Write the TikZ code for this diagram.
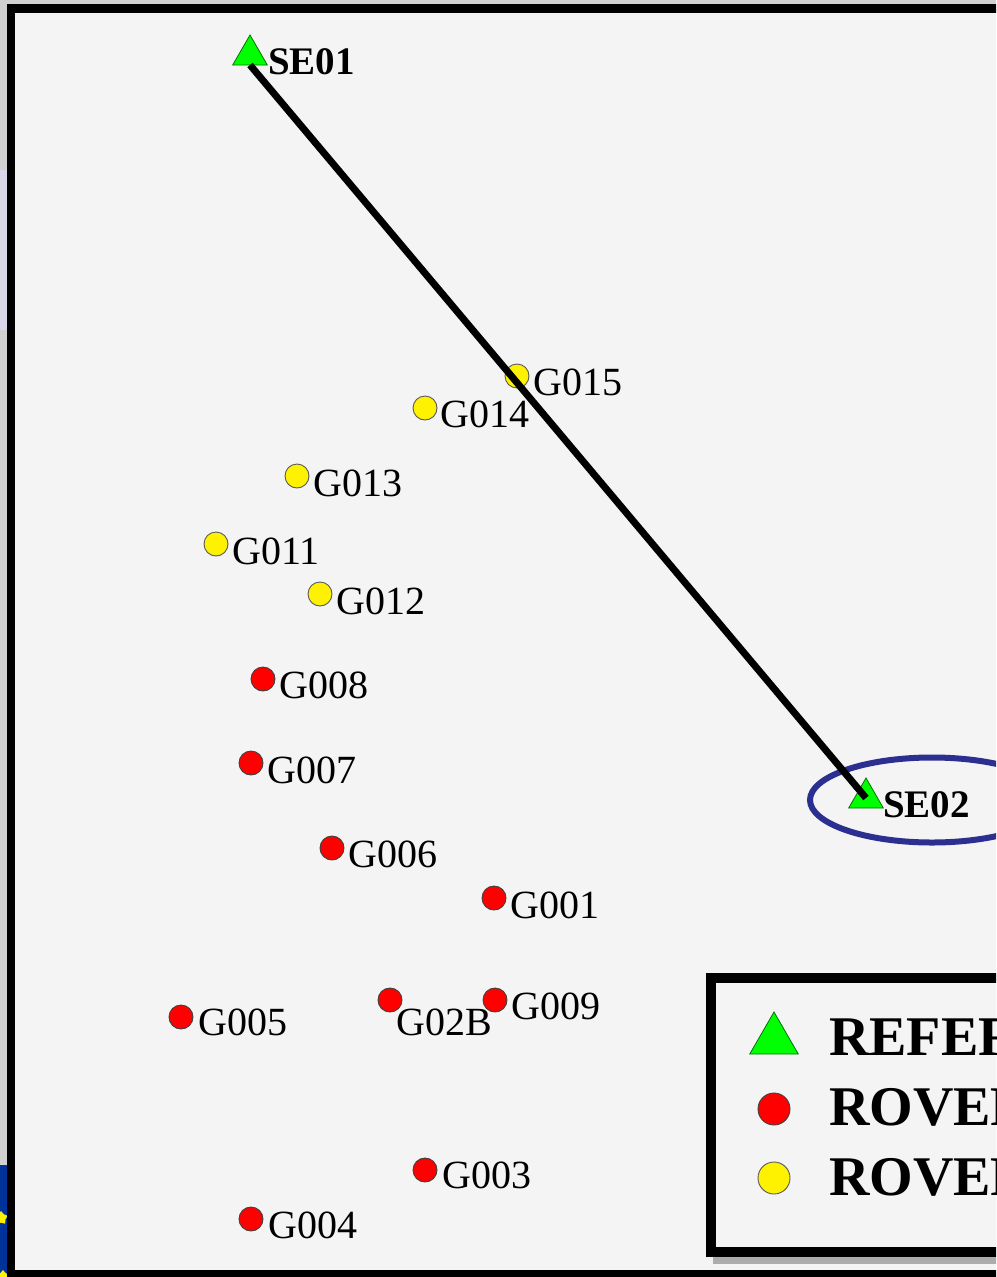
\documentclass[tikz,border=0pt]{standalone}
\usepackage{fontspec}
\setmainfont{Liberation Serif}
\usetikzlibrary{shapes.geometric,calc}
\definecolor{pagegray}{HTML}{D0D0D0}
\definecolor{panel}{HTML}{F4F4F4}
\definecolor{lavender}{HTML}{DAD8E8}
\definecolor{refgreen}{HTML}{00FF00}
\definecolor{ringblue}{HTML}{2B2F8F}
\definecolor{flagblue}{HTML}{003399}
\begin{document}
\begin{tikzpicture}[x=1pt,y=-1pt,
  refpt/.style={regular polygon,regular polygon sides=3,minimum size=40pt,inner sep=0pt,outer sep=0pt,
    fill=refgreen,draw=green!45!black,line width=0.8pt},
  rovred/.style={circle,minimum size=24pt,inner sep=0pt,fill=red,draw=black!75,line width=0.9pt},
  rovyel/.style={circle,minimum size=24pt,inner sep=0pt,fill=yellow,draw=black!65,line width=0.9pt},
  lbl/.style={anchor=base west,inner sep=0pt,font=\fontsize{40}{40}\selectfont},
  reflbl/.style={anchor=base west,inner sep=0pt,font=\fontsize{39}{40}\selectfont\bfseries},
  legtxt/.style={anchor=base west,inner sep=0pt,font=\fontsize{56}{56}\selectfont\bfseries}]
\useasboundingbox (0,0) rectangle (996,1277);
\clip (0,0) rectangle (996,1277);

% surrounding page
\fill[pagegray] (0,0) rectangle (996,1277);
\fill[lavender] (0,170) rectangle (7,330);
\fill[flagblue] (0,1165) rectangle (7,1277);
\node[star,star points=5,fill=yellow,minimum size=14pt,inner sep=0pt] (star1) at (1,1218) {};
\node[star,star points=5,fill=yellow,minimum size=14pt,inner sep=0pt] (star2) at (3,1277) {};

% map panel with frame
\filldraw[fill=panel,draw=black,line width=8.5pt] (11,8.5) rectangle (1012,1274);

% highlight ring round the second reference station
\node[ellipse,draw=ringblue,line width=6pt,minimum width=244pt,minimum height=85pt,inner sep=0pt] (ring) at (932,800) {};

% reference stations
\node[refpt] (se01) at (250,55) {};
\node[refpt] (se02) at (866,798) {};
\node[reflbl] at (268,74) {SE01};
\node[reflbl] at (883,817) {SE02};

% yellow rovers
\node[rovyel] (g015) at (517,376) {};
\node[rovyel] (g014) at (425,408) {};
\node[rovyel] (g013) at (297,476) {};
\node[rovyel] (g011) at (216,544) {};
\node[rovyel] (g012) at (320,594) {};
\node[lbl] at ([shift={(16,19)}]g015.center) {G015};
\node[lbl] at ([shift={(15,19)}]g014.center) {G014};
\node[lbl] at ([shift={(16,20)}]g013.center) {G013};
\node[lbl] at ([shift={(16,20)}]g011.center) {G011};
\node[lbl] at ([shift={(16,20)}]g012.center) {G012};

% red rovers
\node[rovred] (g008) at (263,679) {};
\node[rovred] (g007) at (251,763) {};
\node[rovred] (g006) at (332,848) {};
\node[rovred] (g001) at (494,898) {};
\node[rovred] (g009) at (495,1000) {};
\node[rovred] (g02b) at (390,1000) {};
\node[rovred] (g005) at (181,1017) {};
\node[rovred] (g003) at (425,1170) {};
\node[rovred] (g004) at (251,1219) {};
\node[lbl] at ([shift={(16,19)}]g008.center) {G008};
\node[lbl] at ([shift={(16,20)}]g007.center) {G007};
\node[lbl] at ([shift={(16,19)}]g006.center) {G006};
\node[lbl] at ([shift={(16,20)}]g001.center) {G001};
\node[lbl] at ([shift={(16,19)}]g009.center) {G009};
\node[lbl] at ([shift={(6,35)}]g02b.center) {G02B};
\node[lbl] at ([shift={(17,18)}]g005.center) {G005};
\node[lbl] at ([shift={(17,18)}]g003.center) {G003};
\node[lbl] at ([shift={(17,19)}]g004.center) {G004};

% baseline between the reference stations
\draw[line width=7pt] (se01.side 2) -- (se02.center);

% legend
\fill[gray!65] (713,1257) rectangle (1012,1264);
\filldraw[fill=panel,draw=black,line width=10pt] (710.5,978) rectangle (1012,1252);
\node[refpt,minimum size=56pt] (keyref) at (774,1040) {};
\node[rovred,minimum size=32pt] (keyred) at (774,1109) {};
\node[rovyel,minimum size=32pt] (keyyel) at (774,1178) {};
\node[legtxt] at (829,1055) {REFER};
\node[legtxt] at (829,1125) {ROVER};
\node[legtxt] at (829,1195) {ROVER};
\end{tikzpicture}
\end{document}
